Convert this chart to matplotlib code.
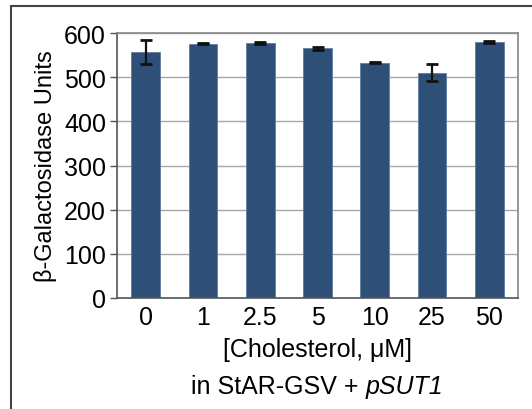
import matplotlib.pyplot as plt
from matplotlib.patches import Rectangle

plt.rcParams["font.family"] = ["Liberation Sans", "DejaVu Sans"]

concentrations = ["0", "1", "2.5", "5", "10", "25", "50"]
units = [557, 576, 577, 565, 533, 510, 579]
errors = [27, 2, 3, 4, 2, 19, 2]

bar_color = "#2E5078"

fig = plt.figure(figsize=(5.32, 4.10), dpi=100)
ax = fig.add_axes([117 / 532, 1 - 299 / 410, 401 / 532, 265 / 410])

x = range(len(concentrations))
ax.bar(x, units, width=0.5, color=bar_color, edgecolor="#5F7DA3", linewidth=0.6, zorder=2)
ax.errorbar(x, units, yerr=errors, fmt="none", ecolor="#111111", elinewidth=1.6,
            capsize=4, capthick=2, zorder=3)

ax.set_xlim(-0.5, len(concentrations) - 0.5)
ax.set_ylim(0, 600)
ax.set_yticks(range(0, 601, 100))
ax.set_xticks(list(x))
ax.set_xticklabels(concentrations)
ax.tick_params(axis="y", direction="out", length=5, width=1, color="#555555", labelsize=18, pad=3)
ax.tick_params(axis="x", length=0, labelsize=18, pad=5)
ax.grid(axis="y", color="#A8A8A8", linewidth=1, zorder=0)

for side in ["left", "bottom"]:
    ax.spines[side].set_color("#555555")
    ax.spines[side].set_linewidth(1.2)
for side in ["top", "right"]:
    ax.spines[side].set_color("#888888")
    ax.spines[side].set_linewidth(1.2)

ax.set_ylabel("\u03b2-Galactosidase Units", fontsize=17, labelpad=5)
cx = 0.5 * (117 + 518) / 532
fig.text(cx, 1 - 350 / 410, "[Cholesterol, \u03bcM]", fontsize=18, ha="center", va="center")

# second line: plain part + italic plasmid name, centred together
renderer = fig.canvas.get_renderer()
y2 = 1 - 387 / 410
t1 = fig.text(0, y2, "in StAR-GSV + ", fontsize=18, ha="left", va="center")
t2 = fig.text(0, y2, "pSUT1", fontsize=18, style="italic", ha="left", va="center")
w1 = t1.get_window_extent(renderer).width / fig.bbox.width
w2 = t2.get_window_extent(renderer).width / fig.bbox.width
start = cx - (w1 + w2) / 2
t1.set_x(start)
t2.set_x(start + w1)

# outer frame (cut off at the right and bottom edges)
fig.patches.append(Rectangle((11 / 532, -0.1), 1.2, 1 - 7 / 410 + 0.1, transform=fig.transFigure,
                             fill=False, edgecolor="#444444", linewidth=1.5))

fig.savefig("out.png", dpi=100)
